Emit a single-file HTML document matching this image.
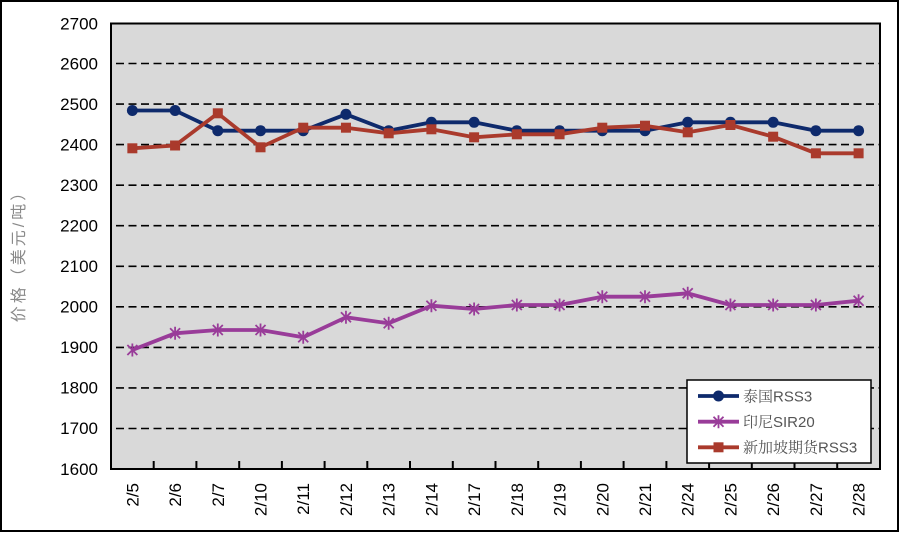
<!DOCTYPE html>
<html><head><meta charset="utf-8"><style>
html,body{margin:0;padding:0;background:#fff;}
svg{display:block;}
</style></head><body>
<svg width="900" height="533" viewBox="0 0 900 533" xmlns="http://www.w3.org/2000/svg">
<rect x="1" y="1" width="897" height="530" fill="#fff" stroke="#000" stroke-width="2"/>
<!-- plot area -->
<rect x="111" y="23.5" width="769" height="445.5" fill="#D9D9D9"/>
<!-- gridlines -->
<g stroke="#000" stroke-width="1.6" stroke-dasharray="8 4.5">
<line x1="116" y1="63.5" x2="880" y2="63.5"/>
<line x1="116" y1="104.1" x2="880" y2="104.1"/>
<line x1="116" y1="144.6" x2="880" y2="144.6"/>
<line x1="116" y1="185.2" x2="880" y2="185.2"/>
<line x1="116" y1="225.7" x2="880" y2="225.7"/>
<line x1="116" y1="266.3" x2="880" y2="266.3"/>
<line x1="116" y1="306.8" x2="880" y2="306.8"/>
<line x1="116" y1="347.4" x2="880" y2="347.4"/>
<line x1="116" y1="387.9" x2="880" y2="387.9"/>
<line x1="116" y1="428.5" x2="880" y2="428.5"/>
</g>
<!-- ticks -->
<g stroke="#000" stroke-width="2">
<line x1="153.7" y1="461" x2="153.7" y2="469"/>
<line x1="196.4" y1="461" x2="196.4" y2="469"/>
<line x1="239.2" y1="461" x2="239.2" y2="469"/>
<line x1="281.9" y1="461" x2="281.9" y2="469"/>
<line x1="324.6" y1="461" x2="324.6" y2="469"/>
<line x1="367.3" y1="461" x2="367.3" y2="469"/>
<line x1="410.0" y1="461" x2="410.0" y2="469"/>
<line x1="452.8" y1="461" x2="452.8" y2="469"/>
<line x1="495.5" y1="461" x2="495.5" y2="469"/>
<line x1="538.2" y1="461" x2="538.2" y2="469"/>
<line x1="580.9" y1="461" x2="580.9" y2="469"/>
<line x1="623.6" y1="461" x2="623.6" y2="469"/>
<line x1="666.4" y1="461" x2="666.4" y2="469"/>
<line x1="709.1" y1="461" x2="709.1" y2="469"/>
<line x1="751.8" y1="461" x2="751.8" y2="469"/>
<line x1="794.5" y1="461" x2="794.5" y2="469"/>
<line x1="837.2" y1="461" x2="837.2" y2="469"/>
</g>
<rect x="111" y="23.5" width="769" height="445.5" fill="none" stroke="#000" stroke-width="2"/>

<!-- Thai RSS3 -->
<polyline fill="none" stroke="#0E2A6C" stroke-width="3.8" stroke-linejoin="round"
points="132.36,110.5 175.08,110.5 217.8,130.7 260.52,130.7 303.24,130.7 345.96,114.3 388.68,130.7 431.4,122.3 474.12,122.3 516.84,130.7 559.56,130.7 602.28,130.7 645,130.7 687.72,122.3 730.44,122.3 773.16,122.3 815.88,130.7 858.6,130.7"/>
<g fill="#0E2A6C">
<circle cx="132.36" cy="110.5" r="5.5"/><circle cx="175.08" cy="110.5" r="5.5"/><circle cx="217.8" cy="130.7" r="5.5"/><circle cx="260.52" cy="130.7" r="5.5"/><circle cx="303.24" cy="130.7" r="5.5"/><circle cx="345.96" cy="114.3" r="5.5"/><circle cx="388.68" cy="130.7" r="5.5"/><circle cx="431.4" cy="122.3" r="5.5"/><circle cx="474.12" cy="122.3" r="5.5"/><circle cx="516.84" cy="130.7" r="5.5"/><circle cx="559.56" cy="130.7" r="5.5"/><circle cx="602.28" cy="130.7" r="5.5"/><circle cx="645" cy="130.7" r="5.5"/><circle cx="687.72" cy="122.3" r="5.5"/><circle cx="730.44" cy="122.3" r="5.5"/><circle cx="773.16" cy="122.3" r="5.5"/><circle cx="815.88" cy="130.7" r="5.5"/><circle cx="858.6" cy="130.7" r="5.5"/>
</g>

<!-- Singapore RSS3 -->
<polyline fill="none" stroke="#AA3A2C" stroke-width="3.8" stroke-linejoin="round"
points="132.36,148.3 175.08,145.5 217.8,113.3 260.52,147.3 303.24,127.7 345.96,127.7 388.68,133.3 431.4,129.3 474.12,137.3 516.84,134.3 559.56,134.3 602.28,127.7 645,125.7 687.72,132.3 730.44,125 773.16,136.7 815.88,153.3 858.6,153.3"/>
<g fill="#AA3A2C">
<rect x="127.36" y="143.3" width="10" height="10"/><rect x="170.08" y="140.5" width="10" height="10"/><rect x="212.8" y="108.3" width="10" height="10"/><rect x="255.52" y="142.3" width="10" height="10"/><rect x="298.24" y="122.7" width="10" height="10"/><rect x="340.96" y="122.7" width="10" height="10"/><rect x="383.68" y="128.3" width="10" height="10"/><rect x="426.4" y="124.3" width="10" height="10"/><rect x="469.12" y="132.3" width="10" height="10"/><rect x="511.84" y="129.3" width="10" height="10"/><rect x="554.56" y="129.3" width="10" height="10"/><rect x="597.28" y="122.7" width="10" height="10"/><rect x="640" y="120.7" width="10" height="10"/><rect x="682.72" y="127.3" width="10" height="10"/><rect x="725.44" y="120" width="10" height="10"/><rect x="768.16" y="131.7" width="10" height="10"/><rect x="810.88" y="148.3" width="10" height="10"/><rect x="853.6" y="148.3" width="10" height="10"/>
</g>

<!-- Indonesia SIR20 -->
<polyline fill="none" stroke="#993C99" stroke-width="3.8" stroke-linejoin="round"
points="132.36,350 175.08,333.3 217.8,330 260.52,330 303.24,337.3 345.96,317.3 388.68,323.3 431.4,305.7 474.12,309 516.84,305 559.56,305 602.28,296.7 645,296.7 687.72,293.3 730.44,305 773.16,305 815.88,305 858.6,300.7"/>
<defs>
<g id="star"><path d="M-5,-5L5,5M-5,5L5,-5M0,-6.5L0,6.5" stroke="#993C99" stroke-width="1.8" fill="none"/></g>
</defs>
<use href="#star" x="132.36" y="350"/><use href="#star" x="175.08" y="333.3"/><use href="#star" x="217.8" y="330"/><use href="#star" x="260.52" y="330"/><use href="#star" x="303.24" y="337.3"/><use href="#star" x="345.96" y="317.3"/><use href="#star" x="388.68" y="323.3"/><use href="#star" x="431.4" y="305.7"/><use href="#star" x="474.12" y="309"/><use href="#star" x="516.84" y="305"/><use href="#star" x="559.56" y="305"/><use href="#star" x="602.28" y="296.7"/><use href="#star" x="645" y="296.7"/><use href="#star" x="687.72" y="293.3"/><use href="#star" x="730.44" y="305"/><use href="#star" x="773.16" y="305"/><use href="#star" x="815.88" y="305"/><use href="#star" x="858.6" y="300.7"/>

<!-- Y tick labels -->
<g font-family="Liberation Sans, sans-serif" font-size="17" fill="#000" text-anchor="end">
<text x="98" y="29.5">2700</text>
<text x="98" y="69.5">2600</text>
<text x="98" y="110">2500</text>
<text x="98" y="150.5">2400</text>
<text x="98" y="191">2300</text>
<text x="98" y="231.5">2200</text>
<text x="98" y="272">2100</text>
<text x="98" y="312.5">2000</text>
<text x="98" y="353">1900</text>
<text x="98" y="393.5">1800</text>
<text x="98" y="434">1700</text>
<text x="98" y="475">1600</text>
</g>

<!-- Y axis title -->
<text transform="translate(24,252) rotate(-90)" text-anchor="middle" font-family="Liberation Sans, Noto Sans CJK SC, sans-serif" font-size="16" letter-spacing="3" fill="#8a8a8a">价格（美元/吨）</text>

<!-- X labels -->
<g font-family="Liberation Sans, sans-serif" font-size="17" fill="#000" text-anchor="end">
<text transform="translate(138.4,483) rotate(-90)">2/5</text>
<text transform="translate(181.1,483) rotate(-90)">2/6</text>
<text transform="translate(223.8,483) rotate(-90)">2/7</text>
<text transform="translate(266.5,483) rotate(-90)">2/10</text>
<text transform="translate(309.2,483) rotate(-90)">2/11</text>
<text transform="translate(352,483) rotate(-90)">2/12</text>
<text transform="translate(394.7,483) rotate(-90)">2/13</text>
<text transform="translate(437.4,483) rotate(-90)">2/14</text>
<text transform="translate(480.1,483) rotate(-90)">2/17</text>
<text transform="translate(522.8,483) rotate(-90)">2/18</text>
<text transform="translate(565.6,483) rotate(-90)">2/19</text>
<text transform="translate(608.3,483) rotate(-90)">2/20</text>
<text transform="translate(651,483) rotate(-90)">2/21</text>
<text transform="translate(693.7,483) rotate(-90)">2/24</text>
<text transform="translate(736.4,483) rotate(-90)">2/25</text>
<text transform="translate(779.2,483) rotate(-90)">2/26</text>
<text transform="translate(821.9,483) rotate(-90)">2/27</text>
<text transform="translate(864.6,483) rotate(-90)">2/28</text>
</g>

<!-- Legend -->
<rect x="687" y="380" width="184" height="83" fill="#fff" stroke="#000" stroke-width="1.5"/>
<line x1="698" y1="396" x2="739" y2="396" stroke="#0E2A6C" stroke-width="3.8"/>
<circle cx="718.5" cy="396" r="5.5" fill="#0E2A6C"/>
<line x1="698" y1="421.7" x2="739" y2="421.7" stroke="#993C99" stroke-width="3.8"/>
<use href="#star" x="718.5" y="421.7"/>
<line x1="698" y1="447.3" x2="739" y2="447.3" stroke="#AA3A2C" stroke-width="3.8"/>
<rect x="713.5" y="442.3" width="10" height="10" fill="#AA3A2C"/>
<g font-family="Liberation Sans, Noto Serif CJK SC, serif" font-size="15" fill="#555">
<text x="743" y="401.5">泰国RSS3</text>
<text x="743" y="427">印尼SIR20</text>
<text x="743" y="452.5">新加坡期货RSS3</text>
</g>
</svg>
</body></html>
